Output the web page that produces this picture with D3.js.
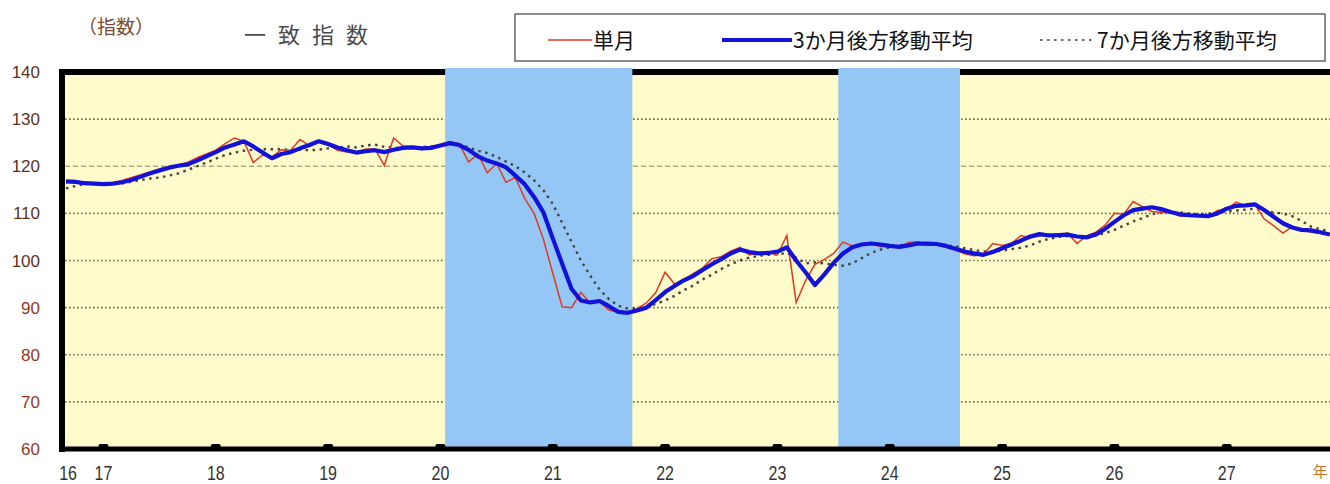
<!DOCTYPE html>
<html>
<head>
<meta charset="utf-8">
<script src="https://cdn.jsdelivr.net/npm/d3@7"></script>
<style>
  body { margin: 0; background: #fff; }
</style>
</head>
<body>
<svg id="chart"></svg>
<script>
// months are counted from January of year 17; the data starts 4 months earlier
const firstMonth = -4;

// 単月 (single month)
const singleMonth = [
  116.5, 116.9, 116.2, 116.4, 116.0, 116.5, 117.0, 117.6, 118.2, 118.8,
  119.5, 119.9, 120.3, 120.8, 121.8, 122.6, 123.4, 124.8, 126.0, 125.3,
  120.8, 122.4, 122.0, 123.5, 123.4, 125.7, 124.3, 125.4, 124.6, 123.4,
  123.0, 122.8, 123.6, 123.7, 120.2, 126.0, 124.3, 124.2, 123.5, 124.1,
  124.6, 125.2, 124.8, 120.9, 122.6, 118.6, 120.6, 116.6, 117.6, 113.2,
  110.0, 104.5, 97.3, 90.2, 90.0, 93.2, 91.0, 91.2, 89.5, 89.0,
  88.9, 89.8, 91.0, 93.2, 97.5, 95.0, 96.0, 97.2, 98.4, 100.4,
  100.8, 102.0, 102.8, 101.2, 101.6, 101.8, 101.2, 105.3, 91.1, 95.7,
  99.2, 100.2, 101.5, 103.9, 103.1, 103.6, 103.7, 102.9, 103.0, 102.8,
  103.8, 104.0, 103.2, 103.4, 102.8, 102.2, 101.4, 101.0, 101.2, 103.6,
  103.2, 103.6, 105.3, 104.8, 105.2, 105.6, 105.4, 105.8, 103.6, 105.2,
  106.0, 107.5, 110.0, 109.8, 112.5, 111.4, 110.4, 110.2, 110.2, 109.4,
  109.6, 109.5, 109.2, 110.6, 110.8, 112.4, 111.6, 111.9, 108.8, 107.4,
  105.8, 107.2, 106.6, 106.0, 105.8, 105.4
];

// 3か月後方移動平均
const avg3 = [
  116.8, 116.7, 116.4, 116.3, 116.2, 116.3, 116.6, 117.1, 117.8, 118.5,
  119.1, 119.7, 120.1, 120.4, 121.2, 122.1, 123.0, 124.0, 124.6, 125.3,
  124.2, 122.9, 121.7, 122.6, 123.0, 123.8, 124.5, 125.3, 124.7, 124.0,
  123.4, 122.9, 123.2, 123.4, 123.0, 123.5, 123.9, 124.0, 123.8, 123.9,
  124.4, 124.9, 124.5, 123.5, 122.1, 121.2, 120.6, 119.8, 118.0, 116.2,
  113.5, 110.2, 104.7, 99.3, 94.0, 91.5, 91.1, 91.4, 90.3, 89.1,
  88.9, 89.4, 90.0, 91.6, 93.3, 94.6, 95.8, 96.7, 98.0, 99.2,
  100.3, 101.5, 102.3, 101.8, 101.5, 101.6, 101.9, 102.8, 100.0, 97.5,
  94.8, 97.0, 99.5, 101.5, 102.8, 103.4, 103.6, 103.4, 103.1, 102.9,
  103.2, 103.6, 103.6, 103.5, 103.1, 102.5, 101.9, 101.5, 101.2, 101.8,
  102.6, 103.4, 104.2, 105.1, 105.6, 105.3, 105.4, 105.5, 105.1, 104.9,
  105.5, 106.7, 108.2, 109.6, 110.7, 111.0, 111.3, 110.9, 110.3, 109.8,
  109.6, 109.5, 109.4, 110.0, 111.0, 111.6, 111.7, 111.9, 110.7, 109.3,
  107.9, 107.0, 106.5, 106.4, 106.0, 105.5
];

// 7か月後方移動平均
const avg7 = [
  115.3, 115.8, 116.2, 116.3, 116.3, 116.3, 116.4, 116.7, 117.1, 117.4,
  117.6, 118.0, 118.5, 119.2, 120.0, 120.8, 121.6, 122.4, 122.9, 123.3,
  123.5, 123.6, 123.6, 123.6, 123.5, 123.5, 123.4, 123.5, 123.8, 124.0,
  124.2, 124.0, 124.4, 124.6, 124.1, 124.0, 123.8, 123.9, 124.1, 124.2,
  124.4, 124.6, 124.7, 124.0, 123.3, 122.8, 122.0, 121.0, 120.0, 118.7,
  117.0, 114.9, 112.0, 108.0, 104.0, 100.0, 96.8, 93.8, 91.8, 90.4,
  89.8, 89.8, 90.2, 90.8, 91.5, 92.5, 93.7, 94.7, 96.0, 97.0,
  98.2, 99.2, 100.0, 100.6, 101.0, 101.2, 101.3, 101.6, 100.6, 99.4,
  99.6, 99.4, 99.1, 98.9, 99.4, 100.5, 101.6, 102.3, 102.8, 103.2,
  103.4, 103.4, 103.5, 103.4, 103.2, 103.0, 102.6, 102.2, 101.9, 101.9,
  102.1, 102.4, 102.7, 103.2, 104.0, 104.6, 105.0, 105.2, 105.2, 105.1,
  105.3, 105.8, 106.5, 107.4, 108.3, 109.0, 109.8, 110.2, 110.3, 110.2,
  110.0, 109.8, 109.9, 110.2, 110.4, 110.6, 110.8, 111.0, 110.6, 110.2,
  110.0, 109.4, 108.4, 107.2, 106.6, 106.2
];

const yearLabels = ["16", "17", "18", "19", "20", "21", "22", "23", "24", "25", "26", "27"];
const yearUnit = "年";
// shaded periods, in months from January of year 17
const shadedPeriods = [[36.5, 56.5], [78.5, 91.5]];
const yTicks = [60, 70, 80, 90, 100, 110, 120, 130, 140];
const legendLabels = ["単月", "3か月後方移動平均", "7か月後方移動平均"];

const width = 1330, height = 484;
const svg = d3.select("#chart").attr("width", width).attr("height", height);

const x = d3.scaleLinear().domain([-4.11, 131.03]).range([65, 1330]);
const y = d3.scaleLinear().domain([60, 140]).range([449, 72]);

// plot background
svg.append("rect")
  .attr("x", x.range()[0]).attr("y", y(140))
  .attr("width", x.range()[1] - x.range()[0]).attr("height", y(60) - y(140))
  .attr("fill", "#FFFBCA");

// grid lines
svg.append("g")
  .selectAll("line")
  .data(yTicks.filter(d => d > 60 && d < 140))
  .join("line")
  .attr("x1", x.range()[0]).attr("x2", x.range()[1])
  .attr("y1", d => y(d)).attr("y2", d => y(d))
  .attr("stroke", d => d === 120 ? "#a9a784" : "#6f6d55")
  .attr("stroke-width", 1.6)
  .attr("stroke-dasharray", d => d === 120 ? "5,3" : "1.6,2.4");

// top frame
svg.append("line")
  .attr("x1", 59).attr("x2", 1330)
  .attr("y1", y(140)).attr("y2", y(140))
  .attr("stroke", "#000").attr("stroke-width", 6);

// shaded periods
svg.append("g")
  .selectAll("rect")
  .data(shadedPeriods)
  .join("rect")
  .attr("x", d => x(d[0]))
  .attr("y", y(140) - 4)
  .attr("width", d => x(d[1]) - x(d[0]))
  .attr("height", y(60) - y(140) + 2)
  .attr("fill", "#95C7F6");

// left frame and bottom axis
svg.append("line")
  .attr("x1", 62).attr("x2", 62)
  .attr("y1", y(140) - 3).attr("y2", y(60) + 3)
  .attr("stroke", "#000").attr("stroke-width", 6);
svg.append("line")
  .attr("x1", 59).attr("x2", 1330)
  .attr("y1", y(60)).attr("y2", y(60))
  .attr("stroke", "#000").attr("stroke-width", 5);

// year tick bumps
svg.append("g")
  .selectAll("rect")
  .data(yearLabels.slice(1))
  .join("rect")
  .attr("x", (d, i) => x(i * 12) - 5)
  .attr("y", y(60) - 5)
  .attr("width", 10).attr("height", 5)
  .attr("rx", 2)
  .attr("fill", "#000");

// y labels
svg.append("g")
  .selectAll("text")
  .data(yTicks)
  .join("text")
  .attr("x", 40)
  .attr("y", d => y(d))
  .attr("dy", "0.36em")
  .attr("text-anchor", "end")
  .style("font", "17px 'Liberation Sans', sans-serif")
  .attr("fill", d => d >= 100 ? "#5b3322" : "#93391a")
  .text(d => d);

// x labels
const xLabelGroup = svg.append("g")
  .style("font", "16px 'Liberation Sans', sans-serif")
  .attr("fill", "#333");
xLabelGroup.selectAll("text")
  .data(yearLabels)
  .join("text")
  .attr("transform", (d, i) => `translate(${ i === 0 ? x(firstMonth) + 2 : x((i - 1) * 12) },480) scale(1,1.25)`)
  .attr("text-anchor", "middle")
  .text(d => d);
xLabelGroup.append("text")
  .attr("transform", `translate(${ x(130.0) },477)`)
  .attr("text-anchor", "middle")
  .style("font", "15px 'Noto Sans CJK JP', sans-serif")
  .attr("fill", "#c8702a")
  .text(yearUnit);

// series lines
const line = d3.line()
  .x((d, i) => x(firstMonth + i))
  .y(d => y(d));

svg.append("path")
  .datum(avg7)
  .attr("d", line)
  .attr("fill", "none")
  .attr("stroke", "#45453d")
  .attr("stroke-width", 2.4)
  .attr("stroke-dasharray", "2.5,4.5");

svg.append("path")
  .datum(singleMonth)
  .attr("d", line)
  .attr("fill", "none")
  .attr("stroke", "#e2381f")
  .attr("stroke-width", 1.5);

svg.append("path")
  .datum(avg3)
  .attr("d", line)
  .attr("fill", "none")
  .attr("stroke", "#1212d8")
  .attr("stroke-width", 4.2)
  .attr("stroke-linejoin", "round");

// titles
svg.append("text")
  .attr("x", 78).attr("y", 34)
  .style("font", "19px 'Noto Sans CJK JP', sans-serif")
  .attr("fill", "#7a4b30")
  .text("（指数）");
svg.append("text")
  .attr("x", 244).attr("y", 43)
  .style("font", "22px 'Noto Sans CJK JP', sans-serif")
  .style("letter-spacing", "12px")
  .attr("fill", "#4a4a4a")
  .text("一致指数");

// legend
const legend = svg.append("g");
legend.append("rect")
  .attr("x", 515).attr("y", 14)
  .attr("width", 810).attr("height", 47)
  .attr("fill", "#fff")
  .attr("stroke", "#666")
  .attr("stroke-width", 1.5);

const legendStyles = [
  { x: 548, len: 44, color: "#e2381f", w: 1.5, dash: null },
  { x: 722, len: 70, color: "#1212d8", w: 4, dash: null },
  { x: 1040, len: 56, color: "#6a6a60", w: 2, dash: "2.5,4.5" }
];

const legendItem = legend.selectAll("g")
  .data(legendLabels)
  .join("g");

legendItem.append("line")
  .attr("x1", (d, i) => legendStyles[i].x)
  .attr("x2", (d, i) => legendStyles[i].x + legendStyles[i].len)
  .attr("y1", 40).attr("y2", 40)
  .attr("stroke", (d, i) => legendStyles[i].color)
  .attr("stroke-width", (d, i) => legendStyles[i].w)
  .attr("stroke-dasharray", (d, i) => legendStyles[i].dash);

legendItem.append("text")
  .attr("x", (d, i) => legendStyles[i].x + legendStyles[i].len + 1)
  .attr("y", 40)
  .attr("dy", "0.36em")
  .style("font", "21px 'Noto Sans CJK JP', sans-serif")
  .attr("fill", "#111")
  .text(d => d);
</script>
</body>
</html>
